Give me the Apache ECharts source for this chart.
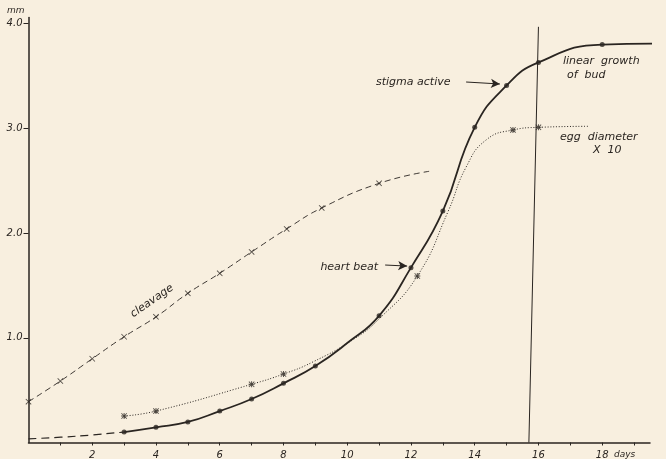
<!DOCTYPE html>
<html><head><meta charset="utf-8">
<script src="https://cdn.jsdelivr.net/npm/echarts@6/dist/echarts.min.js"></script>
<style>html,body{margin:0;padding:0;background:#f8efdf;}#c{width:666px;height:459px;}</style>
</head><body><div id="c"></div>
<script>
// Bud linear growth (solid curve), marked points
var budDays   = [3, 4, 5, 6, 7, 8, 9, 11, 12, 13, 14, 15, 16, 18];
var budMm     = [0.10, 0.145, 0.196, 0.30, 0.415, 0.565, 0.73, 1.21, 1.67, 2.21, 3.01, 3.41, 3.63, 3.80];
// curve readings (incl. unmarked stretches)
var budCurveDays = [3, 4, 5, 6, 7, 8, 9, 10, 11, 12, 13, 14, 15, 16, 18, 20];
var budCurveMm   = [0.10, 0.145, 0.196, 0.30, 0.415, 0.565, 0.73, 0.95, 1.21, 1.67, 2.21, 3.01, 3.41, 3.63, 3.80, 3.81];
// dashed early extrapolation of bud growth
var budEarlyDays = [0, 1.5, 3];
var budEarlyMm   = [0.035, 0.06, 0.10];
// Cleavage (dashed, x marks)
var cleavDays = [0, 1, 2, 3, 4, 5, 6, 7, 8.1, 9.2, 11];
var cleavMm   = [0.39, 0.587, 0.80, 1.01, 1.20, 1.425, 1.616, 1.82, 2.04, 2.24, 2.475];
var cleavCurveDays = [0, 1, 2, 3, 4, 5, 6, 7, 8.1, 9.2, 11, 12.57];
var cleavCurveMm   = [0.39, 0.587, 0.80, 1.01, 1.20, 1.425, 1.616, 1.82, 2.04, 2.24, 2.475, 2.59];
// Egg diameter x10 (dotted, asterisk marks)
var eggDays = [3, 4, 7, 8, 12.2, 15.2, 16];
var eggMm   = [0.253, 0.30, 0.556, 0.654, 1.59, 2.985, 3.01];
var eggCurveDays = [3, 4, 7, 8, 8.9, 10.2, 11, 12.2, 13.17, 13.73, 14.36, 15.2, 16, 17.6];
var eggCurveMm   = [0.253, 0.30, 0.556, 0.654, 0.766, 0.986, 1.18, 1.59, 2.21, 2.63, 2.89, 2.985, 3.01, 3.02];
// vertical reference line (slightly tilted, as drawn)
var vLineDays = [16.0, 15.7];
var vLineMm   = [3.97, 0];
// annotation arrows
var heartArrowDays = [11.19, 11.88], heartArrowMm = [1.695, 1.685];
var stigmaArrowDays = [13.73, 14.79], stigmaArrowMm = [3.443, 3.424];
// ticks
var xLabelDays = [2, 4, 6, 8, 10, 12, 14, 16, 18];
var xTickDays = [1,2,3,4,5,6,7,8,9,10,11,12,13,14,15,16,17,18,19];
var yTickMm = [1, 2, 3, 4];

function zip(a, b) { return a.map(function (v, i) { return [v, b[i]]; }); }
var ink = '#2a2521';
var FONT = 'DejaVu Sans';
var xMark = 'path://M0,1L1,0L5,4L9,0L10,1L6,5L10,9L9,10L5,6L1,10L0,9L4,5Z';
var starMark = 'path://M0,1L1,0L5,4L9,0L10,1L6,5L10,9L9,10L5,6L1,10L0,9L4,5Z M0,4.2L10,4.2L10,5.8L0,5.8Z M4.2,0L5.8,0L5.8,10L4.2,10Z';

var chart = echarts.init(document.getElementById('c'), null, {renderer: 'canvas'});
var txt = function (x, y, s, opt) {
  opt = opt || {};
  return {type: 'text', x: x, y: y, rotation: opt.rot || 0, silent: true,
    style: {text: s, fill: ink, font: 'italic ' + (opt.size || 11) + 'px "' + FONT + '"',
      align: opt.align || 'left', verticalAlign: 'middle'}};
};
chart.setOption({
  backgroundColor: '#f8efdf',
  animation: false,
  grid: {left: 28.5, top: 17.4, width: 621.5, height: 425.1, containLabel: false, outerBoundsMode: 'none'},
  xAxis: {type: 'value', min: 0, max: 19.5, interval: 1,
    axisLine: {show: true, lineStyle: {color: ink, width: 1.5}},
    axisTick: {show: true, length: 3, customValues: xTickDays, lineStyle: {color: ink}},
    axisLabel: {customValues: xLabelDays, color: ink, fontStyle: 'italic', fontFamily: FONT, fontSize: 10, margin: 8},
    splitLine: {show: false}},
  yAxis: {type: 'value', min: 0, max: 4.06, interval: 1,
    axisLine: {show: true, lineStyle: {color: ink, width: 1.5}},
    axisTick: {show: true, length: 5, customValues: yTickMm, lineStyle: {color: ink}},
    axisLabel: {customValues: yTickMm, color: ink, fontStyle: 'italic', fontFamily: FONT, fontSize: 10, margin: 6,
      formatter: function (v) { return v.toFixed(1); }},
    splitLine: {show: false}},
  graphic: [
    txt(7, 11, 'mm', {size: 9}),
    txt(152, 301, 'cleavage', {rot: 35 * Math.PI / 180, align: 'center', size: 11}),
    txt(378, 267, 'heart beat', {align: 'right'}),
    txt(376, 82, 'stigma active'),
    txt(563, 61, 'linear  growth'),
    txt(567, 75, 'of  bud'),
    txt(560, 137, 'egg  diameter'),
    txt(593, 150, 'X  10'),
    txt(614, 455, 'days', {size: 9})
  ],
  series: [
    {type: 'line', data: zip(budEarlyDays, budEarlyMm), smooth: 0.4, symbol: 'none',
      lineStyle: {color: ink, width: 1.2, type: [8, 5]}},
    {type: 'line', data: zip(budCurveDays, budCurveMm), smooth: 0.5, symbol: 'none', clip: false,
      lineStyle: {color: ink, width: 1.8},
      markLine: {silent: true, symbol: 'none', label: {show: false}, lineStyle: {color: ink, width: 1, type: 'solid'},
        data: [[{coord: [vLineDays[0], vLineMm[0]]}, {coord: [vLineDays[1], vLineMm[1]]}]]}},
    {type: 'scatter', data: zip(budDays, budMm), symbol: 'circle', symbolSize: 5, itemStyle: {color: ink}},
    {type: 'line', data: zip(cleavCurveDays, cleavCurveMm), smooth: 0.5, symbol: 'none',
      lineStyle: {color: ink, width: 0.9, type: [6, 4]}},
    {type: 'scatter', data: zip(cleavDays, cleavMm), symbol: xMark, symbolSize: 6, itemStyle: {color: ink}},
    {type: 'line', data: zip(eggCurveDays, eggCurveMm), smooth: 0.5, symbol: 'none',
      lineStyle: {color: ink, width: 1, type: [1, 1.8]},
      markLine: {silent: true, symbol: ['none', 'arrow'], symbolSize: [7, 9], label: {show: false},
        lineStyle: {color: ink, width: 1, type: 'solid'},
        data: [
          [{coord: [heartArrowDays[0], heartArrowMm[0]]}, {coord: [heartArrowDays[1], heartArrowMm[1]]}],
          [{coord: [stigmaArrowDays[0], stigmaArrowMm[0]]}, {coord: [stigmaArrowDays[1], stigmaArrowMm[1]]}]
        ]}},
    {type: 'scatter', data: zip(eggDays, eggMm), symbol: starMark, symbolSize: 6, itemStyle: {color: ink}}
  ]
});
</script></body></html>
